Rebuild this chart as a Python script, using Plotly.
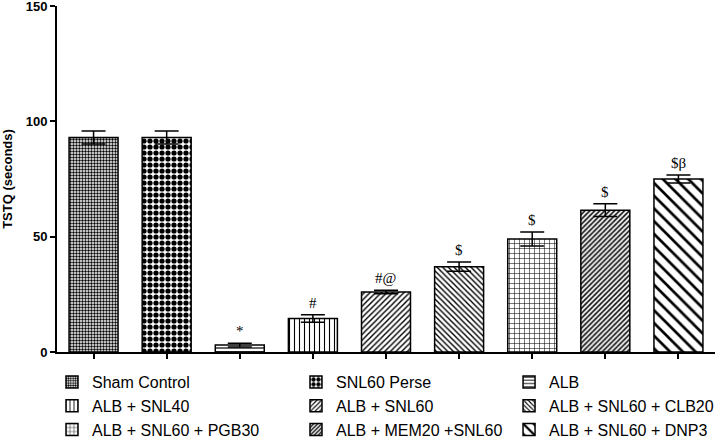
import plotly.graph_objects as go

groups = ["Sham Control", "SNL60 Perse", "ALB", "ALB + SNL40", "ALB + SNL60",
          "ALB + SNL60 + CLB20", "ALB + SNL60 + PGB30", "ALB + MEM20 +SNL60",
          "ALB + SNL60 + DNP3"]
means = [93, 93, 3, 14.5, 26, 37, 49, 61.5, 75]
sems = [2.8, 2.8, 0.8, 1.6, 0.8, 2.0, 3.0, 2.8, 1.7]
marks = ["", "", "*", "#", "#@", "$", "$", "$", "$\u03b2"]
y_ticks = [0, 50, 100, 150]

patterns = [
    dict(shape=".", size=3, solidity=0.5),
    dict(shape=".", size=6, solidity=0.6),
    dict(shape="-", size=4, solidity=0.3),
    dict(shape="|", size=5, solidity=0.22),
    dict(shape="/", size=4, solidity=0.35),
    dict(shape="\\", size=4, solidity=0.35),
    dict(shape="+", size=5, solidity=0.2),
    dict(shape="/", size=3.5, solidity=0.45),
    dict(shape="\\", size=9, solidity=0.3),
]
legend_ids = ["legend", "legend2", "legend3"]

fig = go.Figure()
for i, g in enumerate(groups):
    p = dict(patterns[i])
    p.update(fgcolor="black", bgcolor="white", fillmode="replace")
    fig.add_trace(go.Bar(
        x=[g], y=[means[i]], name=g, width=0.67,
        marker=dict(color="white", line=dict(color="black", width=1.5), pattern=p),
        error_y=dict(type="data", array=[sems[i]], color="black", thickness=1.5, width=12),
        legend=legend_ids[i % 3],
    ))
    if marks[i]:
        fig.add_annotation(x=g, y=means[i] + sems[i], text=marks[i], showarrow=False,
                           yanchor="bottom", yshift=2,
                           font=dict(family="Liberation Serif", size=15, color="black"))

legend_common = dict(orientation="v", yanchor="top", xanchor="left", y=-0.0376,
                     font=dict(family="Liberation Sans", size=16, color="black"),
                     bgcolor="rgba(0,0,0,0)", tracegroupgap=0)

fig.update_layout(
    width=725, height=438,
    margin=dict(l=57, r=10, t=6, b=86, autoexpand=False),
    plot_bgcolor="white", paper_bgcolor="white",
    barmode="overlay",
    legend=dict(x=-0.0076, **legend_common),
    legend2=dict(x=0.3632, **legend_common),
    legend3=dict(x=0.687, **legend_common),
    xaxis=dict(showticklabels=False, ticks="outside", ticklen=5, tickwidth=1.5,
               tickcolor="black", showline=True, linecolor="black", linewidth=2,
               showgrid=False, range=[-0.5, 8.5]),
    yaxis=dict(range=[0, 150], tickmode="array", tickvals=y_ticks,
               ticktext=[str(v) for v in y_ticks], ticklabeloverflow="allow",
               ticks="outside", ticklen=5, tickwidth=1.5,
               tickcolor="black", showline=True, linecolor="black", linewidth=2,
               showgrid=False, zeroline=False,
               tickfont=dict(family="Liberation Sans", size=13, color="black", weight="bold"),
               title=dict(text="<b>TSTQ (seconds)</b>", standoff=14,
                          font=dict(family="Liberation Sans", size=13, color="black"))),
)

fig.write_html("out.html", config={"displayModeBar": False},
               post_script="document.body.style.margin='0';document.body.style.overflow='hidden';")
